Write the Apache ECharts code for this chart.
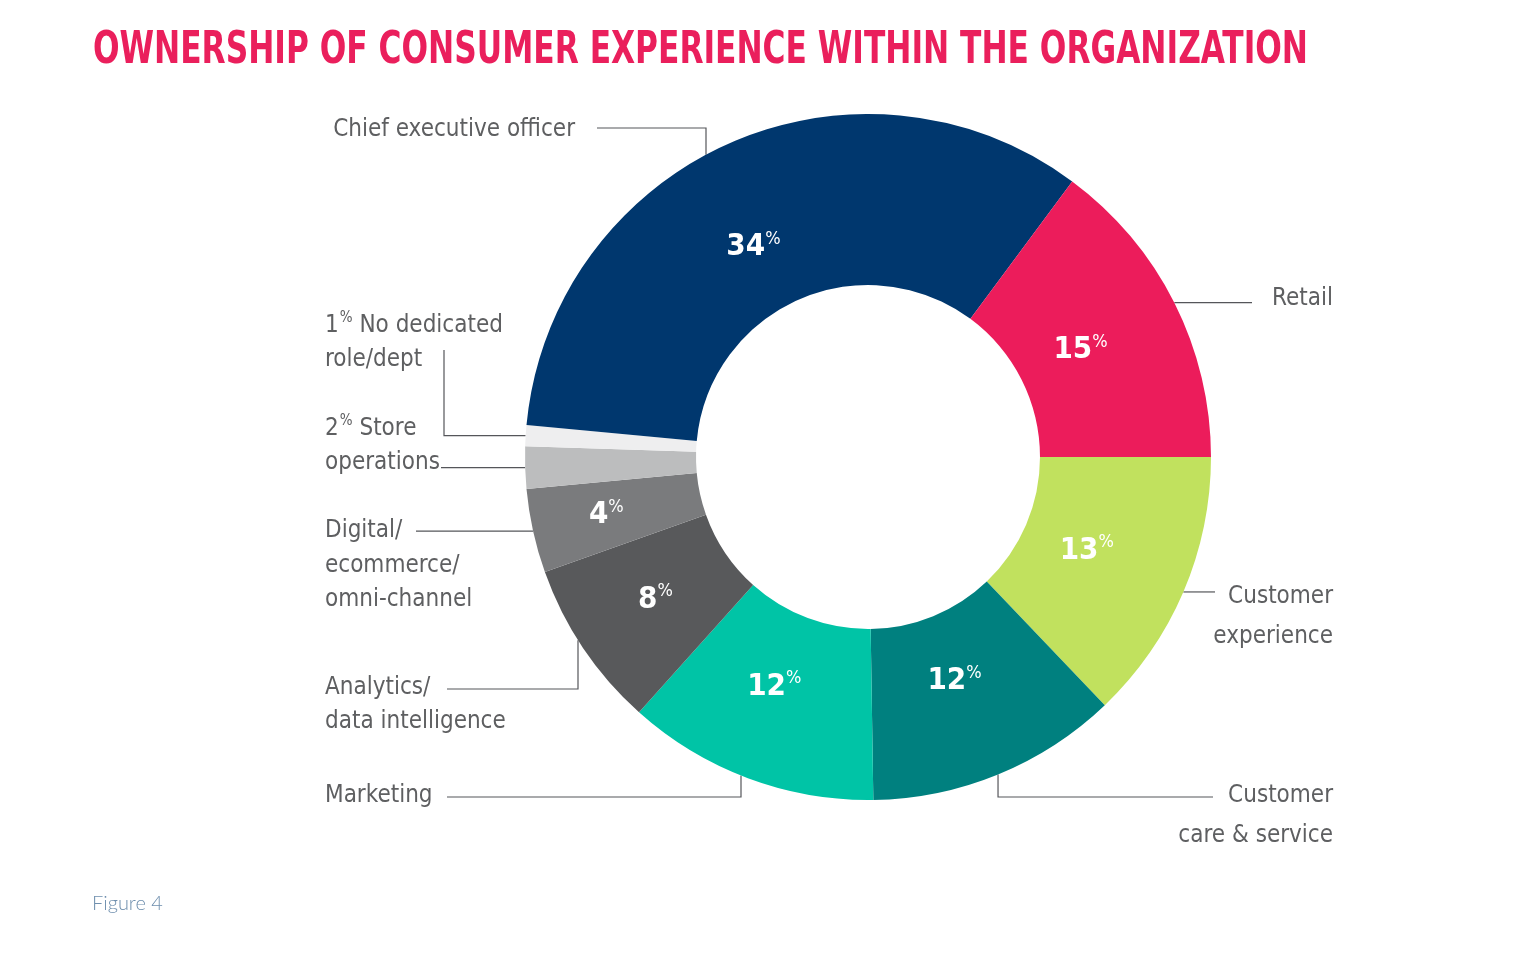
<!DOCTYPE html>
<html><head><meta charset="utf-8">
<script src="https://cdn.jsdelivr.net/npm/echarts/dist/echarts.min.js"></script>
<style>html,body{margin:0;padding:0;background:#fff}#c{width:1528px;height:972px}</style>
</head><body><div id="c"></div>
<script>
// ---- data ----
const titleText = 'OWNERSHIP OF CONSUMER EXPERIENCE WITHIN THE ORGANIZATION';
const footnote = 'Figure 4';
const categories = ['Customer experience','Customer care & service','Marketing','Analytics/data intelligence','Digital/ecommerce/omni-channel','Store operations','No dedicated role/dept','Chief executive officer','Retail'];
const values = [13, 12, 12, 8, 4, 2, 1, 34, 15];
const outerLabels = [
  'Customer\nexperience',
  'Customer\ncare & service',
  'Marketing',
  'Analytics/\ndata intelligence',
  'Digital/\necommerce/\nomni-channel',
  '{s} Store\noperations',
  '{s} No dedicated\nrole/dept',
  'Chief executive officer',
  'Retail'
];
const showInner = [true, true, true, true, true, false, false, true, true];
const colors = ['#C1E15E','#00807F','#00C4A6','#58595B','#7A7B7D','#BCBDBE','#EEEEEF','#00376E','#EC1C5B'];

// ---- font detection ----
function hasFont(f){
  const c=document.createElement('canvas').getContext('2d');
  const s='abcdefghijklmnopqrstuvwxyz ABCDEFGHIJ';
  c.font='40px monospace'; const a=c.measureText(s).width;
  c.font='40px "'+f+'", monospace'; const b=c.measureText(s).width;
  return a!==b;
}
const fontList = [['Liberation Sans Narrow',1],['DejaVu Sans Condensed',0.84],['Roboto Condensed',0.95],['Liberation Sans',0.8]];
let NF='Liberation Sans', FS=0.8;
for (const [f,k] of fontList){ if(hasFont(f)){NF=f;FS=k;break;} }
function measure(font,text){const c=document.createElement('canvas').getContext('2d');c.font=font;return c.measureText(text).width;}

// ---- layout ----
const CX=868, CY=457, R0=172, R1=343;
const total = values.reduce((a,b)=>a+b,0);
function midAngle(i){
  let cum=0; for(let j=0;j<i;j++) cum+=values[j];
  return -(cum+values[i]/2)/total*2*Math.PI;
}
function edgePoint(i){ const a=midAngle(i); return [CX+R1*Math.cos(a), CY-R1*Math.sin(a)]; }
function arcAtX(x,up){ const h=Math.sqrt(R1*R1-(x-CX)*(x-CX)); return [x, up?CY-h:CY+h]; }
// label placement: x, top y, align, line height, leader line builder
const place = [
  {x:1333,y:577,align:'right',lh:40,line:s=>[s,[1215,s[1]]]},
  {x:1333,y:776,align:'right',lh:40,line:s=>[s,[s[0],797],[1213,797]]},
  {x:325,y:779,align:'left',lh:34,line:s=>{s=arcAtX(741,false);return [s,[741,797],[447,797]];}},
  {x:325,y:671,align:'left',lh:34,line:s=>{s=arcAtX(578,false);return [s,[578,689],[447,689]];}},
  {x:325,y:514,align:'left',lh:34.5,line:s=>[s,[416,s[1]]]},
  {x:325,y:412,align:'left',lh:34,line:s=>[s,[441,s[1]]]},
  {x:325,y:309,align:'left',lh:34,line:s=>[s,[444,s[1]],[444,350]]},
  {x:575,y:113,align:'right',lh:34,line:s=>{s=arcAtX(706,true);return [s,[706,128],[597,128]];}},
  {x:1272,y:282,align:'left',lh:34,line:s=>[s,[1252,s[1]]]}
];
// inner label radius / angle offset per slice
const innerR = [238, 240, 248, 256, 268, 0, 0, 239, 238];
const innerDA = [0, -0.02, -0.03, 0, 0, 0, 0, 0.08, 0];

const txtColor='#5E5F61';
const fsz = Math.round(29*FS);
const innerData = categories.map((c,i)=>({name:c,value:values[i],itemStyle:{color:colors[i]},
  label:{show:showInner[i]}}));
const outerData = categories.map((c,i)=>{
  let t = outerLabels[i];
  if (t.indexOf('{s}')===0) t = '{n|'+values[i]+'}{p|%}'+t.slice(3);
  return {name:c,value:values[i],label:{formatter:t,lineHeight:place[i].lh,align:place[i].align}};
});

// title as scaled text so its width matches
const titleFS = Math.round(45*FS/0.84);
const titleFont = 'bold '+titleFS+'px "'+NF+'"';
const titleScale = 1215/measure(titleFont,titleText);

const chart = echarts.init(document.getElementById('c'));
chart.setOption({
  backgroundColor:'#fff',
  animation:false,
  title:[
    {text:footnote,left:92,top:894,padding:0,textStyle:{fontFamily:'Lato',fontSize:20,fontWeight:300,color:'#6F8FAE'}}
  ],
  graphic:[{type:'text',x:93,y:51,scaleX:titleScale,
    style:{text:titleText,font:titleFont,fill:'#EA1F5C',verticalAlign:'middle',align:'left'}}],
  series:[
    {type:'pie',center:[CX,CY],radius:[R0,R1],startAngle:0,clockwise:true,avoidLabelOverlap:false,silent:true,
     data:innerData,
     label:{position:'inside',formatter:p=>'{n|'+p.value+'}{p|%}',
       rich:{n:{fontFamily:NF,fontSize:Math.round(37*FS),fontWeight:'bold',color:'#fff',lineHeight:36},
             p:{fontFamily:NF,fontSize:Math.round(22*FS),color:'#fff',verticalAlign:'top',lineHeight:36,padding:[1,0,0,0]}}},
     labelLine:{show:false},
     labelLayout:function(p){
       const i=p.dataIndex; const a=midAngle(i)+innerDA[i];
       return {x:CX+innerR[i]*Math.cos(a), y:CY-innerR[i]*Math.sin(a), align:'center', verticalAlign:'middle'};
     }
    },
    {type:'pie',center:[CX,CY],radius:[R0,R1],startAngle:0,clockwise:true,avoidLabelOverlap:false,silent:true,
     data:outerData,
     itemStyle:{color:'rgba(0,0,0,0)'},
     label:{position:'outside',fontFamily:NF,fontSize:fsz,color:txtColor,
       rich:{n:{fontFamily:NF,fontSize:fsz,color:txtColor},p:{fontFamily:NF,fontSize:Math.round(fsz*0.62),color:txtColor,verticalAlign:'top',padding:[2,0,0,1]},
             s:{}}},
     labelLine:{show:true,length:10,length2:10,lineStyle:{color:'#55565A',width:1.2}},
     labelLayout:function(p){
       const i=p.dataIndex, pl=place[i];
       return {x:pl.x,y:pl.y,align:pl.align,verticalAlign:'top',labelLinePoints:pl.line(edgePoint(i))};
     }
    }
  ]
});
</script>
</body></html>
